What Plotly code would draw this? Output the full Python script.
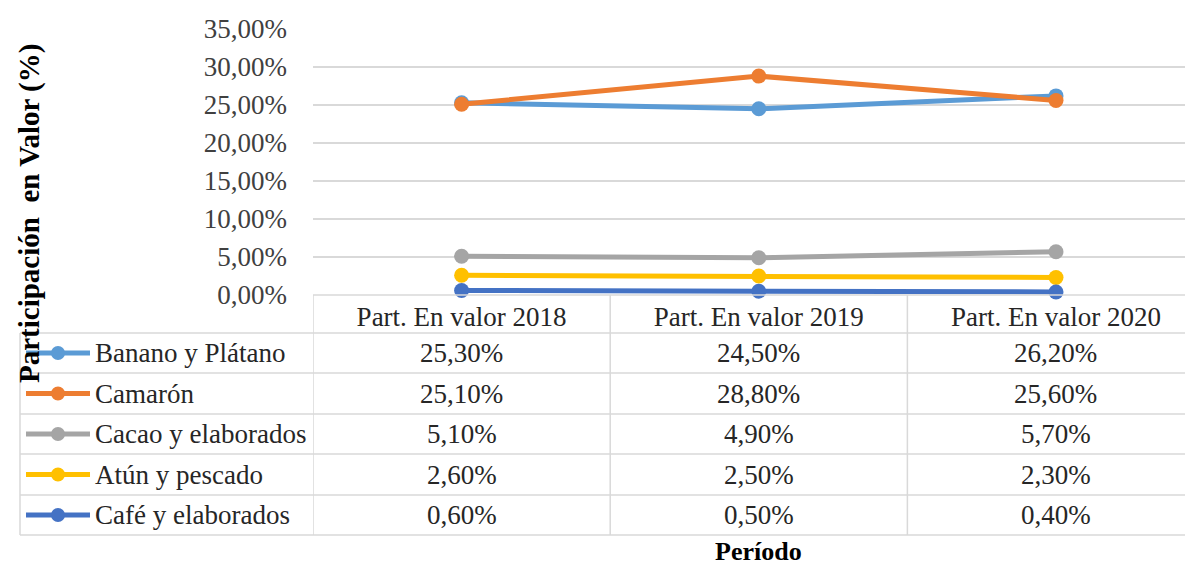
import plotly.graph_objects as go

OFF = 8  # page body margin in the browser
W, H = 1193 - OFF, 568 - OFF

periods = ["Part. En valor 2018", "Part. En valor 2019", "Part. En valor 2020"]
series_names = ["Banano y Plátano", "Camarón", "Cacao y elaborados", "Atún y pescado", "Café y elaborados"]
banano = [25.3, 24.5, 26.2]
camaron = [25.1, 28.8, 25.6]
cacao = [5.1, 4.9, 5.7]
atun = [2.6, 2.5, 2.3]
cafe = [0.6, 0.5, 0.4]
series_values = [banano, camaron, cacao, atun, cafe]
colors = ["#5b9bd5", "#ed7d31", "#a5a5a5", "#ffc000", "#4472c4"]
y_ticks = [0, 0.05, 0.10, 0.15, 0.20, 0.25, 0.30, 0.35]

FONT = "Liberation Serif"
GRID = "#d9d9d9"
TXT = "#262626"
FS = 27


def xp(x):
    return (x - OFF) / W


def yp(y):
    return 1 - (y - OFF) / H


fig = go.Figure()
for name, vals, col in zip(series_names, series_values, colors):
    fig.add_trace(go.Scatter(
        x=periods, y=[v / 100 for v in vals], name=name, mode="lines+markers",
        line=dict(color=col, width=5), marker=dict(color=col, size=15),
        cliponaxis=False, showlegend=False,
    ))

shapes = []
ann = []
shapes.append(dict(type="line", xref="paper", yref="paper", x0=xp(313), x1=1, y0=yp(295), y1=yp(295),
                   line=dict(color=GRID, width=1.5)))
row_lines = [333, 373, 414, 454, 495, 535]
for y in row_lines:
    shapes.append(dict(type="line", xref="paper", yref="paper", x0=xp(20), x1=1, y0=yp(y), y1=yp(y),
                       line=dict(color=GRID, width=1.5)))
shapes.append(dict(type="line", xref="paper", yref="paper", x0=xp(20), x1=xp(20), y0=yp(333), y1=yp(535),
                   line=dict(color=GRID, width=1.5)))
for x in [-0.5, 0.5, 1.5]:
    shapes.append(dict(type="line", xref="x", yref="paper", x0=x, x1=x, y0=yp(295), y1=yp(535),
                       line=dict(color=GRID, width=1.5)))

for i, (name, vals, col) in enumerate(zip(series_names, series_values, colors)):
    yc = (row_lines[i] + row_lines[i + 1]) / 2
    shapes.append(dict(type="line", xref="paper", yref="paper", x0=xp(26), x1=xp(90), y0=yp(yc), y1=yp(yc),
                       line=dict(color=col, width=5)))
    shapes.append(dict(type="circle", xref="paper", yref="paper", x0=xp(51), x1=xp(65), y0=yp(yc + 7),
                       y1=yp(yc - 7), fillcolor=col, line=dict(color=col, width=0)))
    ann.append(dict(text=name, xref="paper", yref="paper", x=xp(93), y=yp(yc), xanchor="left",
                    yanchor="middle", showarrow=False, font=dict(family=FONT, size=FS, color=TXT)))
    for j, v in enumerate(vals):
        ann.append(dict(text=f"{v:.2f}%".replace(".", ","), xref="x", yref="paper", x=j, y=yp(yc),
                        xanchor="center", yanchor="middle", showarrow=False,
                        font=dict(family=FONT, size=FS, color=TXT)))

ann.append(dict(text="<b>Participación\u00a0 en Valor (%)</b>", xref="paper", yref="paper", x=xp(29),
                y=yp(214), textangle=-90, showarrow=False, xanchor="center", yanchor="middle",
                font=dict(family=FONT, size=29, color="#000000")))
ann.append(dict(text="<b>Período</b>", xref="x", yref="paper", x=1, y=yp(551), showarrow=False,
                xanchor="center", yanchor="middle", font=dict(family=FONT, size=26, color="#000000")))

fig.update_layout(
    width=W, height=H, margin=dict(l=0, r=0, t=0, b=0, pad=0), autosize=False,
    paper_bgcolor="white", plot_bgcolor="white",
    separators=",.",
    shapes=shapes, annotations=ann,
    xaxis=dict(domain=[xp(313), 1], type="category", range=[-0.5, 2.461], showgrid=False, zeroline=False,
               showline=False, ticks="", side="bottom", ticklabelstandoff=3, automargin=False,
               tickfont=dict(family=FONT, size=FS, color=TXT)),
    yaxis=dict(domain=[yp(295), yp(29)], range=[0, 0.35], tickvals=y_ticks, tickformat=".2%",
               showgrid=True, gridcolor=GRID, gridwidth=1.5, zeroline=False, showline=False,
               ticks="", ticklabelstandoff=25, automargin=False,
               tickfont=dict(family=FONT, size=FS, color="#404040")),
)

fig.write_html("out.html")
